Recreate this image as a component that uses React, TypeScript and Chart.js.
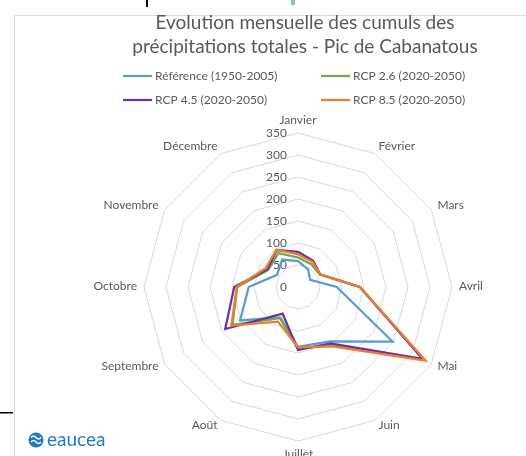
import { useEffect, useRef } from 'react';
import { Chart, registerables } from 'chart.js';

Chart.register(...registerables);

const months = ['Janvier', 'Février', 'Mars', 'Avril', 'Mai', 'Juin', 'Juillet', 'Août', 'Septembre', 'Octobre', 'Novembre', 'Décembre'];
const reference = [59, 46, 32, 88, 248, 143, 136, 80, 152, 112, 55, 72];
const rcp26 = [67, 60, 57, 140, 330, 152, 141, 82, 172, 138, 78, 89];
const rcp45 = [80, 69, 58, 141, 327, 148, 143, 70, 191, 145, 80, 97];
const rcp85 = [74, 66, 58, 141, 335, 156, 137, 91, 175, 139, 85, 98];
const seriesLabels = ['Référence (1950-2005)', 'RCP 2.6 (2020-2050)', 'RCP 4.5 (2020-2050)', 'RCP 8.5 (2020-2050)'];
const seriesColors = ['#5B9BD5', '#70AD47', '#7030A0', '#ED7D31'];
const tickValues = [0, 50, 100, 150, 200, 250, 300, 350];
const titleLines = ['Evolution mensuelle des cumuls des', 'précipitations totales - Pic de Cabanatous'];
const logoText = 'eaucea';

const FONT = 'Lato, "Open Sans", sans-serif';
const TEXT = '#595959';

const decorPlugin = {
  id: 'excelDecor',
  beforeDatasetsDraw(chart: any) {
    const ctx = chart.ctx;
    const scale = chart.scales.r;
    ctx.save();
    ctx.font = `12px ${FONT}`;
    ctx.fillStyle = TEXT;
    // value-axis tick labels, left of the vertical axis
    ctx.textAlign = 'right';
    ctx.textBaseline = 'middle';
    tickValues.forEach((v) => {
      const p = scale.getPointPositionForValue(0, v);
      ctx.fillText(String(v), p.x - 11, p.y);
    });
    // category labels, placed Excel-style around the outer polygon
    const n = months.length;
    months.forEach((m, i) => {
      const p = scale.getPointPosition(i, scale.drawingArea + 7);
      const angle = (i * 360) / n;
      let align: CanvasTextAlign = 'center';
      let baseline: CanvasTextBaseline = 'middle';
      let dy = -1;
      if (angle === 0) { baseline = 'bottom'; dy = 0; }
      else if (angle === 180) { baseline = 'top'; dy = 0; }
      if (angle > 0 && angle < 180) align = 'left';
      else if (angle > 180) align = 'right';
      ctx.textAlign = align;
      ctx.textBaseline = baseline;
      ctx.fillText(m, p.x, p.y + dy);
    });
    ctx.restore();
  },
  afterDraw(chart: any) {
    const ctx = chart.ctx;
    ctx.save();
    // frame
    ctx.strokeStyle = '#d9d9d9';
    ctx.lineWidth = 1;
    ctx.beginPath();
    ctx.moveTo(14.5, 460);
    ctx.lineTo(14.5, 15.5);
    ctx.lineTo(526, 15.5);
    ctx.stroke();
    ctx.fillStyle = '#000';
    ctx.fillRect(146, 0, 2, 7);
    ctx.fillRect(0, 412, 13, 1.5);
    ctx.fillStyle = '#7fc4cc';
    ctx.fillRect(291, 0, 4, 5);

    // title
    ctx.fillStyle = TEXT;
    ctx.font = `19px ${FONT}`;
    ctx.textAlign = 'center';
    ctx.textBaseline = 'middle';
    ctx.fillText(titleLines[0], 305, 23);
    ctx.fillText(titleLines[1], 305, 47);

    // legend
    const cols = [123, 321];
    const rows = [76, 100];
    ctx.font = `12px ${FONT}`;
    ctx.textAlign = 'left';
    chart.data.datasets.forEach((ds: any, i: number) => {
      const x = cols[i % 2];
      const y = rows[Math.floor(i / 2)];
      ctx.strokeStyle = ds.borderColor;
      ctx.lineWidth = 2.25;
      ctx.beginPath();
      ctx.moveTo(x, y);
      ctx.lineTo(x + 29, y);
      ctx.stroke();
      ctx.fillStyle = TEXT;
      ctx.fillText(ds.label, x + 32, y);
    });

    // logo
    ctx.fillStyle = '#1f78c8';
    ctx.beginPath();
    ctx.arc(36, 440, 7.5, 0, Math.PI * 2);
    ctx.fill();
    ctx.strokeStyle = '#fff';
    ctx.lineWidth = 1.5;
    [-2.5, 2].forEach((dy) => {
      ctx.beginPath();
      ctx.moveTo(31, 440 + dy);
      ctx.quadraticCurveTo(33.5, 437 + dy, 36, 440 + dy);
      ctx.quadraticCurveTo(38.5, 443 + dy, 41, 440 + dy);
      ctx.stroke();
    });
    ctx.fillStyle = '#1f78c8';
    ctx.font = `19px ${FONT}`;
    ctx.textAlign = 'left';
    ctx.fillText(logoText, 47, 440);
    ctx.restore();
  },
};

export default function App() {
  const ref = useRef<HTMLCanvasElement | null>(null);
  useEffect(() => {
    if (!ref.current) return;
    const series = [reference, rcp26, rcp45, rcp85];
    const chart = new Chart(ref.current, {
      type: 'radar',
      data: {
        labels: months,
        datasets: series.map((d, i) => ({
          label: seriesLabels[i],
          data: d,
          borderColor: seriesColors[i],
          backgroundColor: seriesColors[i],
          borderWidth: 2.25,
          pointRadius: 0,
          fill: false,
          tension: 0,
          order: 3 - i,
        })),
      },
      options: {
        responsive: false,
        animation: false,
        devicePixelRatio: 1,
        layout: { padding: { left: 70, right: 0, top: 133, bottom: 15 } },
        plugins: {
          legend: { display: false },
          title: { display: false },
          tooltip: { enabled: false },
        },
        scales: {
          r: {
            min: 0,
            max: 350,
            ticks: { display: false, stepSize: 50 },
            grid: { color: '#d9d9d9', lineWidth: 1, circular: false },
            angleLines: { display: false },
            pointLabels: { display: false },
          },
        },
      },
      plugins: [decorPlugin],
    });
    return () => chart.destroy();
  }, []);
  return (
    <div style={{ position: 'fixed', left: 0, top: 0, width: 526, height: 456, background: '#fff' }}>
      <canvas ref={ref} width={526} height={456} style={{ width: 526, height: 456, display: 'block' }} />
    </div>
  );
}
